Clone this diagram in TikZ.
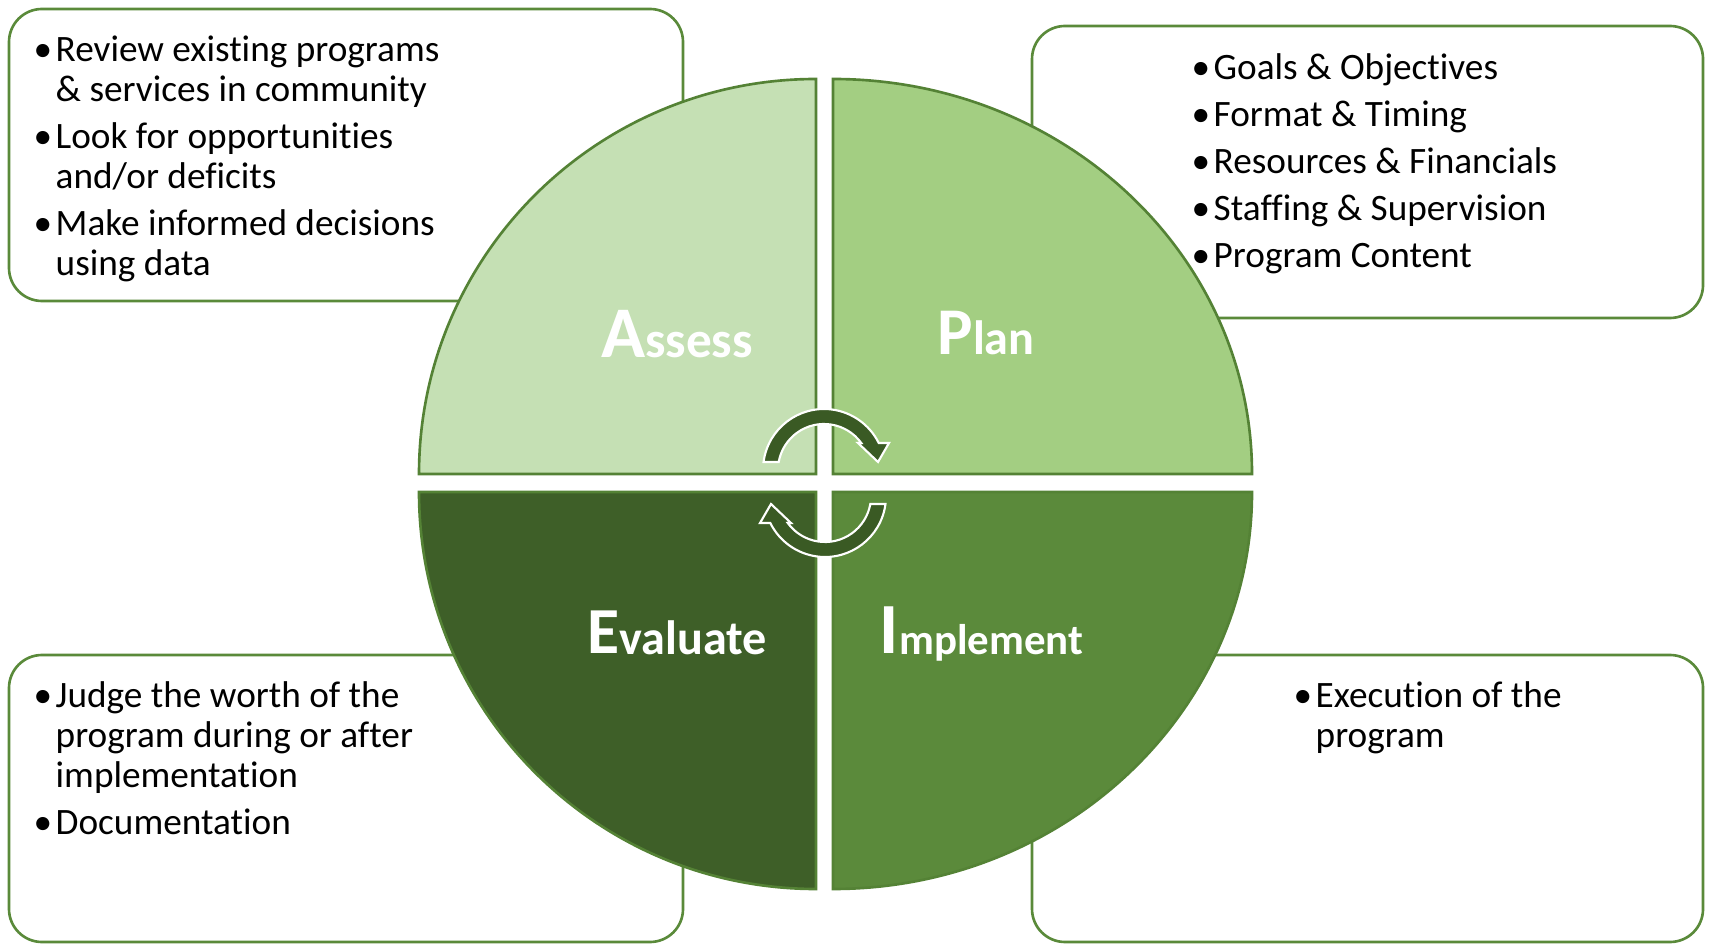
\documentclass[tikz,border=0pt]{standalone}
\usepackage{fontspec}
\setmainfont{Carlito}[Ligatures=NoCommon]

\definecolor{boxline}{HTML}{5A8A3A}
\definecolor{quadline}{HTML}{548235}
\definecolor{assessgreen}{HTML}{C5E0B4}
\definecolor{plangreen}{HTML}{A3CE82}
\definecolor{implementgreen}{HTML}{5B8A3B}
\definecolor{evaluategreen}{HTML}{3E5F28}
\definecolor{arrowgreen}{HTML}{3A5A24}

% bullet and hanging indent for the lists
\newcommand{\bl}{\makebox[0.22cm][l]{\textbullet}}
\newcommand{\ind}{\hspace*{0.22cm}}

\tikzset{
    pics/turnarrow/.style={code={
        \draw[turn] (172.5:0.61) arc[start angle=172.5, end angle=26.3, radius=0.61]
            -- (0.65,0.27) -- (0.54,0.08) -- (0.34,0.27) -- (35.9:0.46)
            arc[start angle=35.9, end angle=170, radius=0.46] -- cycle;
    }}
}

\begin{document}
\begin{tikzpicture}[
    infobox/.style={draw=boxline, line width=0.75pt, fill=white, rounded corners=0.33cm},
    quarter/.style={draw=quadline, line width=0.75pt},
    bullets/.style={anchor=north west, inner sep=0pt, align=left, font=\fontsize{10.6}{11.4}\selectfont},
    phase/.style={anchor=base, inner sep=0pt, text=white, font=\bfseries},
    turn/.style={fill=arrowgreen, draw=white, line width=0.6pt}
]
    \useasboundingbox (0,0) rectangle (17.10,9.44);

    % Text boxes behind the circle
    \draw[infobox] (0.09,6.43) rectangle (6.83,9.35);
    \draw[infobox] (10.32,6.26) rectangle (17.03,9.18);
    \draw[infobox] (0.09,0.02) rectangle (6.83,2.89);
    \draw[infobox] (10.32,0.02) rectangle (17.03,2.89);

    % Four quarters
    \draw[quarter, fill=assessgreen] (8.16,4.70) -- (4.19,4.70)
        arc[start angle=180, end angle=90, x radius=3.97, y radius=3.95] -- cycle;
    \draw[quarter, fill=plangreen] (8.33,4.70) -- (8.33,8.65)
        arc[start angle=90, end angle=0, x radius=4.19, y radius=3.95] -- cycle;
    \draw[quarter, fill=evaluategreen] (8.16,4.52) -- (4.19,4.52)
        arc[start angle=180, end angle=270, x radius=3.97, y radius=3.97] -- cycle;
    \draw[quarter, fill=implementgreen] (8.33,4.52) -- (12.52,4.52)
        arc[start angle=0, end angle=-90, x radius=4.19, y radius=3.97] -- cycle;

    % Phase names
    \node[phase] (assess) at (6.77,5.86) {\fontsize{20.7}{21}\selectfont A\fontsize{14.6}{15}\selectfont ssess};
    \node[phase] (plan) at (9.86,5.89) {\fontsize{19}{19}\selectfont P\fontsize{13.7}{14}\selectfont lan};
    \node[phase] (evaluate) at (6.77,2.90) {\fontsize{18.7}{19}\selectfont E\fontsize{13.7}{14}\selectfont valuate};
    \node[phase] (implement) at (9.815,2.90) {\fontsize{20.5}{21}\selectfont I\fontsize{12.2}{13}\selectfont mplement};

    % Cycle arrows
    \pic at (8.24,4.74) {turnarrow};
    \pic[rotate=180] at (8.25,4.48) {turnarrow};

    % Lists
    \node[bullets] (assesslist) at (0.33,9.09) {%
        \bl Review existing programs\\
        \ind \& services in community\\[2pt]
        \bl Look for opportunities\\
        \ind and/or deficits\\[2pt]
        \bl Make informed decisions\\
        \ind using data};
    \node[bullets] (planlist) at (11.91,8.91) {%
        \bl Goals \& Objectives\\[2pt]
        \bl Format \& Timing\\[2pt]
        \bl Resources \& Financials\\[2pt]
        \bl Staffing \& Supervision\\[2pt]
        \bl Program Content};
    \node[bullets] (evaluatelist) at (0.33,2.63) {%
        \bl Judge the worth of the\\
        \ind program during or after\\
        \ind implementation\\[2pt]
        \bl Documentation};
    \node[bullets] (implementlist) at (12.93,2.63) {%
        \bl Execution of the\\
        \ind program};
\end{tikzpicture}
\end{document}
